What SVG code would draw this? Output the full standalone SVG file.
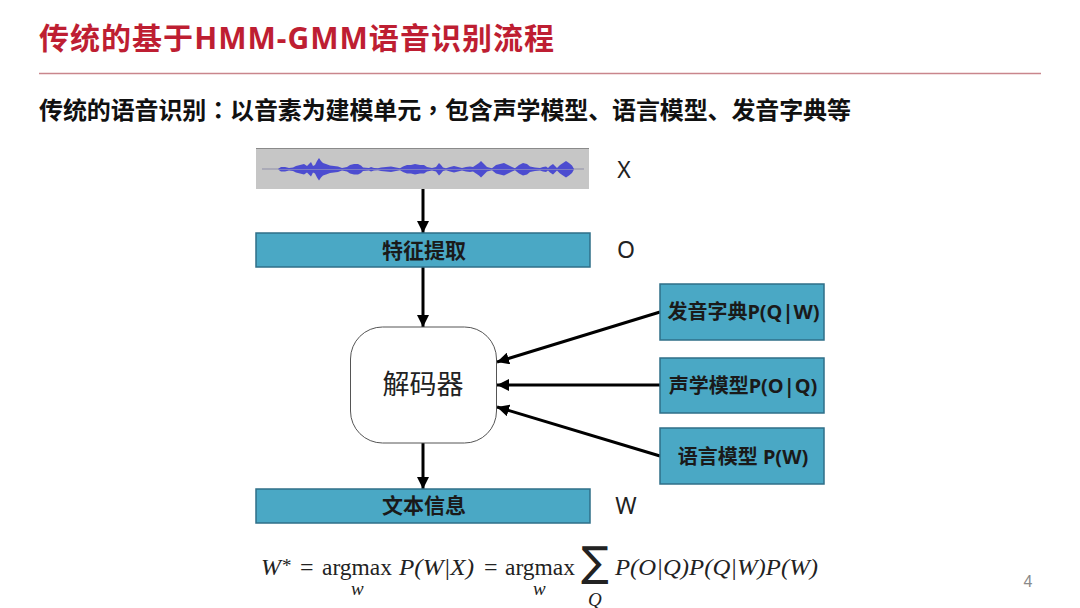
<svg xmlns="http://www.w3.org/2000/svg" width="1080" height="608" viewBox="0 0 1080 608">
<style>
.cjk{font-family:"Noto Sans","Noto Sans CJK SC",sans-serif}
.title{font-size:30px;font-weight:700;fill:#be1e32}
.sub{font-size:24px;font-weight:700;fill:#111}
.box{fill:#4aa8c5;stroke:#2f6f88;stroke-width:1.5}
.lab{font-size:20px;font-weight:700;fill:#1a1a1a;text-anchor:middle}
.var{font-family:"Noto Sans",sans-serif;font-size:23px;fill:#222;text-anchor:middle}
.conn{fill:none;stroke:#000;stroke-width:3;marker-end:url(#a)}
.m{font-family:"Liberation Serif","DejaVu Serif",serif;font-size:24px;fill:#222}
.i{font-style:italic}
.s{font-size:19px}
</style>
<defs>
<marker id="a" markerUnits="userSpaceOnUse" markerWidth="13" markerHeight="12" refX="12" refY="6" orient="auto"><path d="M0 0L12 6L0 12z" fill="#000"/></marker>
<path id="env" d="M278 169L281 167L285 167L289 168L293 167.500L296 166L300 165L304 164L307 166L309 164L311 162L313 166L315 165L317 161L319 158L321 161L323 163L326 164L330 165.500L334 166L338 166.500L342 168L347 167L350 165L354 164L358 164L361 165.500L363 167.500L369 168L371 167L374 168L378 168.200L381 167.500L386 167L391 166.500L396 167.500L400 168.200L403 166.500L407 165L411 165L415 164L420 165L424 165L427 167L432 168L436 167L439 163L441 165L443 167.500L446 168.200L450 167L454 166L458 167L462 168L466 167L470 166.500L473 167L476 165L479 163L481 161L484 164L487 167L492 168.200L496 165L500 164L504 163L508 165L512 167L515 168.200L519 165L523 163L527 164L530 166.500L535 167.500L540 168L543 167L546 166.500L548 168L550 166L553 164L555 166L557 168L560 165L563 163L566 161L569 163L572 165.500L574 169Z"/>
</defs>
<rect width="1080" height="608" fill="#fff"/>
<g id="header">
<text class="cjk title" x="39" y="49" textLength="515">传统的基于HMM-GMM语音识别流程</text>
<line x1="39" y1="73.500" x2="1041" y2="73.500" stroke="#c9868d" stroke-width="1.500"/>
<text class="cjk sub" x="39" y="119" textLength="812">传统的语音识别<tspan font-family="Noto Sans CJK TC">：</tspan>以音素为建模单元<tspan font-family="Noto Sans CJK TC">，</tspan>包含声学模型、语言模型、发音字典等</text>
</g>
<g id="connectors">
<path class="conn" d="M423 189V233"/>
<path class="conn" d="M423 267V327"/>
<path class="conn" d="M423 443V489"/>
<path class="conn" d="M660 312L497 362"/>
<path class="conn" d="M660 385H497"/>
<path class="conn" d="M660 456L497 407"/>
</g>
<g id="waveform">
<rect x="256" y="148" width="333" height="41" fill="#c6c6c6"/>
<line x1="256" y1="148.500" x2="589" y2="148.500" stroke="#8a8a8a" stroke-width="1"/>
<line x1="262" y1="169" x2="584" y2="169" stroke="#8f8fa8" stroke-width="1"/>
<use href="#env" fill="#4c4cd0"/>
<use href="#env" fill="#4c4cd0" transform="matrix(1 0 0 -1 0 338.500)"/>
</g>
<g id="feature"><rect class="box" x="256" y="233" width="334" height="34"/><text class="cjk lab" x="424" y="258" style="font-size:21px">特征提取</text></g>
<g id="decoder"><rect x="350.500" y="327" width="146" height="116" rx="32" fill="#fff" stroke="#555" stroke-width="1"/><text class="cjk" x="423" y="394" font-size="27" fill="#222" text-anchor="middle">解码器</text></g>
<g id="textinfo"><rect class="box" x="256" y="489" width="334" height="34"/><text class="cjk lab" x="424" y="513" style="font-size:21px">文本信息</text></g>
<g id="lexicon"><rect class="box" x="660" y="284" width="164" height="56"/><text class="cjk lab" x="743.500" y="319">发音字典P(Q|W)</text></g>
<g id="acoustic"><rect class="box" x="660" y="358" width="164" height="55"/><text class="cjk lab" x="743" y="393">声学模型P(O|Q)</text></g>
<g id="language"><rect class="box" x="660" y="428" width="164" height="56"/><text class="cjk lab" x="743" y="464">语言模型 P(W)</text></g>
<g id="vars">
<text class="var" x="624" y="178">X</text>
<text class="var" x="626" y="258">O</text>
<text class="var" x="626" y="514">W</text>
<text x="1028" y="587" font-family="Liberation Sans,sans-serif" font-size="16" fill="#8a8a8a" text-anchor="middle">4</text>
</g>
<g id="formula">
<text class="m i" x="261" y="575">W</text>
<text class="m s" x="282" y="572">*</text>
<text class="m" x="300" y="575">=</text>
<text class="m" x="322" y="575" textLength="70" lengthAdjust="spacingAndGlyphs">argmax</text>
<text class="m i s" x="351" y="595">w</text>
<text class="m i" x="399" y="575" textLength="75" lengthAdjust="spacingAndGlyphs">P(W|X)</text>
<text class="m" x="484" y="575">=</text>
<text class="m" x="505" y="575" textLength="70" lengthAdjust="spacingAndGlyphs">argmax</text>
<text class="m i s" x="533" y="595">w</text>
<text x="581" y="576" font-family="DejaVu Sans,sans-serif" font-size="41" fill="#222">∑</text>
<text class="m i s" x="588" y="606">Q</text>
<text class="m i" x="615" y="575" textLength="203" lengthAdjust="spacingAndGlyphs">P(O|Q)P(Q|W)P(W)</text>
</g>
</svg>
